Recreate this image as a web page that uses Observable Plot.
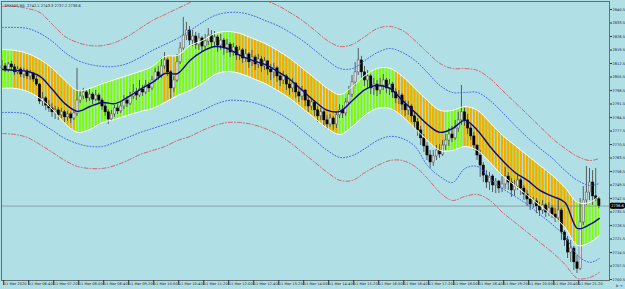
<!DOCTYPE html>
<html><head><meta charset="utf-8">
<script src="https://cdn.jsdelivr.net/npm/d3@7"></script>
<script src="https://cdn.jsdelivr.net/npm/@observablehq/plot@0.6"></script>
<style>html,body{margin:0;padding:0;background:#B0E0E6;overflow:hidden}</style>
</head><body><div id="chart"></div>
<script>
const headerText = "SPX500,M5  2742.1 2743.3 2737.2 2738.6";
const lastPrice = 2738.6;
const firstOpen = 2810.0;

const closes = [2811.0,2808.9,2812.0,2810.5,2807.9,2809.4,2806.8,2808.4,2805.8,2807.3,2804.2,2801.6,2792.8,2794.4,2790.7,2789.2,2787.2,2788.2,2785.6,2787.2,
2784.6,2786.1,2784.0,2786.6,2793.3,2795.4,2797.5,2794.4,2796.4,2793.8,2795.9,2793.3,2790.2,2787.2,2783.5,2786.1,2789.2,2787.7,2790.2,2793.3,
2791.7,2795.4,2797.5,2795.9,2799.0,2797.5,2801.1,2799.6,2803.7,2807.9,2805.8,2811.0,2814.1,2807.9,2799.6,2803.7,2813.1,2820.3,2827.0,2829.6,
2824.4,2826.5,2822.3,2825.5,2821.3,2823.9,2827.0,2823.4,2826.0,2821.8,2824.4,2820.3,2822.3,2818.2,2820.8,2816.7,2819.3,2815.1,2817.2,2813.1,
2815.6,2812.0,2814.6,2811.0,2813.6,2809.4,2807.9,2810.0,2805.8,2803.7,2805.8,2801.6,2799.6,2802.1,2797.5,2795.4,2798.5,2793.3,2790.2,2792.3,
2788.2,2785.1,2787.2,2783.0,2780.9,2784.0,2780.9,2785.6,2788.2,2786.6,2792.3,2796.4,2802.7,2807.9,2814.1,2807.9,2803.7,2805.8,2799.6,2801.6,
2798.5,2801.1,2803.7,2799.6,2801.6,2797.5,2794.4,2795.9,2791.2,2788.2,2790.2,2785.1,2782.0,2777.8,2773.7,2769.5,2764.8,2761.2,2764.3,2767.4,
2765.3,2770.0,2772.6,2775.7,2773.7,2778.8,2783.0,2787.2,2783.0,2778.8,2774.7,2770.0,2764.8,2759.6,2754.4,2750.8,2753.9,2749.3,2751.3,2747.7,
2749.8,2753.9,2750.8,2746.7,2748.7,2751.9,2747.7,2744.6,2742.0,2739.4,2741.0,2738.4,2736.3,2738.9,2735.3,2737.4,2734.2,2732.2,2736.3,2724.9,
2720.8,2714.5,2716.6,2709.4,2706.1,2730.1,2741.5,2745.6,2750.8,2743.6,2742.1,2738.6];

const highs = [2814.1,2812.5,2813.1,2813.6,2812.0,2811.0,2810.5,2810.0,2809.4,2808.9,2807.9,2805.8,2802.1,2797.5,2795.4,2793.3,2791.7,2790.2,2789.7,2789.2,
2788.2,2787.7,2787.2,2788.2,2810.0,2798.5,2799.6,2798.5,2799.0,2797.5,2798.5,2796.9,2794.4,2791.7,2788.6,2788.2,2790.7,2791.2,2792.3,2795.9,
2795.4,2797.5,2801.6,2799.6,2803.7,2801.1,2803.7,2802.7,2805.8,2810.0,2811.0,2815.1,2818.2,2815.1,2808.9,2805.8,2817.2,2823.4,2836.4,2833.8,
2831.7,2829.6,2828.6,2828.0,2826.5,2827.5,2830.6,2829.6,2829.1,2827.0,2827.5,2825.5,2824.9,2823.4,2822.9,2821.8,2821.3,2820.3,2819.8,2818.2,
2819.3,2816.7,2817.2,2816.2,2815.6,2814.1,2812.0,2812.5,2811.0,2807.9,2808.4,2806.8,2803.7,2804.8,2802.7,2799.6,2800.6,2799.0,2795.4,2794.4,
2793.3,2790.2,2789.2,2788.2,2785.6,2786.1,2785.1,2787.2,2791.2,2790.7,2794.4,2800.6,2806.3,2813.1,2820.3,2816.2,2811.0,2808.9,2806.8,2804.8,
2803.7,2804.8,2806.8,2804.8,2804.2,2802.7,2799.6,2798.5,2796.9,2793.3,2792.8,2791.2,2787.2,2784.0,2779.9,2775.7,2771.5,2767.4,2767.4,2770.0,
2770.5,2772.6,2775.7,2778.8,2779.9,2783.0,2787.2,2801.1,2789.2,2786.1,2780.9,2776.8,2770.0,2767.4,2761.2,2757.0,2756.0,2754.9,2752.9,2751.9,
2753.9,2758.6,2756.0,2752.9,2751.9,2754.9,2752.9,2749.3,2746.7,2743.6,2743.1,2742.5,2740.5,2741.5,2739.9,2740.4,2738.9,2737.4,2741.5,2737.4,
2725.9,2722.8,2720.8,2717.7,2713.0,2742.5,2748.7,2759.1,2758.1,2757.0,2758.1,2743.3];

const lows = [2808.9,2807.9,2807.9,2808.9,2806.3,2806.8,2805.3,2804.8,2804.2,2803.7,2802.7,2800.6,2791.2,2790.2,2788.2,2787.2,2784.6,2783.5,2783.0,2784.0,
2782.0,2782.5,2781.4,2783.0,2785.1,2791.7,2793.8,2792.3,2792.8,2791.2,2792.8,2791.2,2788.2,2785.1,2780.9,2782.5,2784.6,2786.1,2786.6,2788.6,
2789.7,2790.7,2793.8,2793.3,2794.9,2795.4,2796.4,2797.5,2798.5,2802.7,2803.7,2804.8,2809.4,2805.8,2793.8,2797.5,2802.7,2812.0,2819.3,2824.4,
2821.8,2821.3,2819.8,2819.3,2818.3,2819.3,2821.8,2820.3,2820.8,2818.3,2819.3,2816.7,2817.7,2815.6,2816.2,2814.1,2814.1,2812.5,2813.1,2810.0,
2811.0,2808.9,2810.0,2807.9,2808.9,2806.3,2803.7,2804.8,2802.7,2800.6,2801.6,2798.5,2795.9,2797.5,2794.4,2792.3,2793.3,2790.2,2787.2,2788.2,
2785.1,2782.0,2783.0,2779.9,2778.3,2779.4,2777.8,2778.8,2784.0,2784.0,2785.1,2791.2,2794.9,2800.6,2806.3,2804.8,2800.6,2799.6,2796.4,2795.9,
2795.4,2796.4,2798.5,2796.9,2795.9,2794.4,2791.7,2791.2,2788.2,2785.1,2785.6,2782.0,2778.8,2774.7,2770.0,2766.4,2762.2,2758.1,2759.1,2762.2,
2763.3,2764.3,2767.4,2769.5,2771.6,2772.6,2776.8,2780.4,2779.9,2775.7,2772.6,2767.4,2762.2,2753.4,2750.8,2747.7,2746.7,2745.6,2745.1,2745.1,
2745.6,2747.2,2746.7,2743.1,2743.6,2746.7,2744.1,2741.5,2738.4,2736.3,2737.3,2734.7,2733.2,2734.2,2732.7,2733.2,2732.2,2730.1,2730.1,2720.8,
2717.7,2711.4,2709.4,2705.2,2703.6,2705.2,2728.5,2739.0,2741.5,2739.0,2741.0,2737.2];

// indicator lines, read every 4 bars
const sampleBars = [0,4,8,12,16,20,24,28,32,36,40,44,48,52,56,60,64,68,72,76,80,84,88,92,96,100,104,108,112,116,120,124,128,132,136,140,144,148,152,156,160,164,168,172,176,180,184,188,191];
const midLine = [2809.4,2808.9,2808.4,2805.8,2799.0,2791.7,2787.7,2790.2,2792.3,2791.7,2794.9,2799.0,2802.7,2807.3,2807.3,2814.1,2818.8,2821.3,2820.3,2816.7,2814.1,2812.0,2808.4,2804.2,2798.5,2792.8,2788.2,2787.7,2793.3,2799.0,2801.1,2799.6,2793.3,2787.2,2780.9,2776.8,2778.8,2783.0,2777.8,2769.5,2762.2,2756.0,2751.9,2746.7,2743.6,2740.5,2727.0,2729.1,2732.2];
const bandHi = [2819.8,2819.3,2817.7,2814.6,2810.0,2803.7,2798.5,2799.6,2802.1,2804.2,2806.3,2808.4,2811.0,2816.2,2816.7,2821.8,2824.4,2828.1,2829.1,2828.1,2825.5,2822.9,2819.3,2815.1,2810.0,2804.8,2799.6,2796.4,2800.6,2806.3,2810.0,2810.0,2805.8,2799.6,2793.3,2788.2,2788.2,2790.2,2788.2,2781.9,2775.2,2770.0,2764.8,2759.6,2754.4,2748.2,2740.5,2740.5,2744.1];
const bandLo = [2799.6,2799.6,2798.0,2794.4,2788.7,2781.4,2776.8,2778.3,2781.9,2783.5,2785.6,2787.6,2789.2,2792.3,2795.9,2798.5,2802.1,2806.8,2808.4,2807.3,2804.8,2802.1,2798.5,2794.4,2789.2,2784.0,2778.8,2775.7,2779.8,2785.6,2789.2,2789.2,2785.0,2778.8,2772.6,2767.4,2767.4,2769.5,2767.4,2761.2,2754.4,2749.3,2744.1,2738.9,2733.7,2727.5,2718.2,2719.7,2723.3];
const dotHi = [2831.2,2831.2,2830.7,2828.1,2823.9,2818.2,2814.1,2812.0,2811.0,2811.0,2812.5,2815.6,2819.3,2822.4,2825.5,2829.6,2833.8,2837.4,2838.9,2838.9,2837.4,2834.8,2832.2,2828.6,2824.4,2819.3,2814.1,2809.9,2809.9,2814.1,2818.2,2820.3,2818.2,2814.1,2807.8,2801.1,2797.5,2797.5,2797.5,2793.3,2787.1,2780.4,2774.1,2768.5,2763.3,2757.0,2751.9,2749.3,2750.3];
const dotLo = [2787.1,2787.1,2786.1,2781.9,2777.8,2773.6,2771.0,2769.5,2769.5,2771.6,2774.1,2776.7,2778.8,2780.9,2783.0,2785.5,2788.2,2791.3,2793.3,2793.3,2792.3,2790.2,2787.1,2783.0,2777.8,2772.6,2767.4,2763.8,2764.8,2768.4,2772.6,2774.7,2773.6,2769.5,2759.6,2753.9,2750.8,2758.1,2759.1,2752.9,2747.7,2743.6,2739.4,2734.2,2729.0,2722.8,2713.0,2709.4,2711.4];
const redHi = [2842.1,2842.1,2841.0,2838.9,2832.7,2826.5,2823.4,2821.8,2821.8,2823.4,2826.5,2830.7,2834.8,2837.9,2841.0,2844.1,2847.2,2849.3,2850.4,2849.3,2847.2,2845.2,2842.6,2838.9,2834.8,2829.6,2824.4,2821.3,2822.4,2826.5,2830.7,2831.7,2829.6,2824.4,2818.2,2812.5,2809.9,2809.9,2808.9,2804.7,2798.5,2792.3,2786.1,2779.8,2773.6,2768.5,2764.3,2762.2,2763.3];
const redLo = [2776.2,2775.7,2774.1,2770.5,2766.4,2762.2,2759.1,2758.1,2758.1,2759.6,2762.2,2765.3,2767.4,2769.5,2772.6,2774.7,2777.8,2780.4,2781.9,2781.9,2780.9,2778.8,2775.7,2771.6,2766.4,2761.2,2756.0,2751.9,2751.9,2756.0,2759.6,2762.2,2762.2,2759.1,2752.9,2745.6,2741.5,2743.6,2744.6,2741.5,2735.3,2730.1,2724.9,2719.7,2714.5,2708.3,2701.1,2701.6,2704.2];

// bars (inclusive) where the band is drawn orange (down); elsewhere green
const downRanges = [[4,23],[52,55],[75,107],[126,141],[148,183]];

const xTickBars = [0,8,16,24,32,40,48,56,64,72,80,88,96,104,112,120,128,136,144,152,160,168,176,184];
const xTickLabels = ["11 Mar 2020","11 Mar 06:40","11 Mar 07:20","11 Mar 08:00","11 Mar 08:40","11 Mar 09:20","11 Mar 10:00","11 Mar 10:40","11 Mar 11:20","11 Mar 12:00","11 Mar 12:40","11 Mar 13:20","11 Mar 14:00","11 Mar 14:40","11 Mar 15:20","11 Mar 16:00","11 Mar 16:40","11 Mar 17:20","11 Mar 18:00","11 Mar 18:40","11 Mar 19:20","11 Mar 20:00","11 Mar 20:40","11 Mar 21:20"];
const yTicks = [2700.5,2707.5,2714.5,2721.5,2728.5,2735.5,2742.5,2749.5,2756.5,2763.5,2770.5,2777.5,2784.5,2791.5,2798.5,2805.5,2812.5,2819.5,2826.5,2833.5,2840.5];

const bars = closes.map((c, i) => {
  const o = i === 0 ? firstOpen : closes[i - 1];
  return {i, o, c, h: Math.max(highs[i], o, c), l: Math.min(lows[i], o, c)};
});
const lines = sampleBars.map((b, k) => ({b, mid: midLine[k], bandHi: bandHi[k], bandLo: bandLo[k],
  dotHi: dotHi[k], dotLo: dotLo[k], redHi: redHi[k], redLo: redLo[k]}));

const curve = "catmull-rom";
const chart = Plot.plot({
  width: 625, height: 289,
  marginLeft: 1, marginRight: 16, marginTop: 1, marginBottom: 9,
  x: {domain: [-0.32, 194.24]},
  y: {domain: [2700.0, 2844.65]},
  style: {background: "#B0E0E6", fontFamily: "DejaVu Sans, sans-serif", fontSize: "3.6px", color: "#1a1a1a"},
  marks: [
    Plot.areaY(lines, {x: "b", y1: "bandLo", y2: "bandHi", fill: "url(#stripeGreen)", curve}),
    Plot.areaY(lines, {x: "b", y1: "bandLo", y2: "bandHi", fill: "url(#stripeOrange)", curve}),
    Plot.ruleY([lastPrice], {stroke: "#7f9298", strokeWidth: 0.8}),
    Plot.rect(bars, {x1: d => d.i - 0.14, x2: d => d.i + 0.14, y1: "l", y2: "h", fill: "#4a4a4a"}),
    Plot.rect(bars, {x1: d => d.i - 0.36, x2: d => d.i + 0.36, y1: "o", y2: "c",
      fill: d => d.c >= d.o ? "#dcdcdc" : "#000000", stroke: d => d.c >= d.o ? "#555555" : "#000000", strokeWidth: 0.5}),
    Plot.line(lines, {x: "b", y: "bandHi", stroke: "white", strokeWidth: 1, curve}),
    Plot.line(lines, {x: "b", y: "bandLo", stroke: "white", strokeWidth: 1, curve}),
    Plot.line(lines, {x: "b", y: "redHi", stroke: "#d9606e", strokeWidth: 1, strokeDasharray: "4,2,1,2", curve, clip: true}),
    Plot.line(lines, {x: "b", y: "redLo", stroke: "#d9606e", strokeWidth: 1, strokeDasharray: "4,2,1,2", curve, clip: true}),
    Plot.line(lines, {x: "b", y: "dotHi", stroke: "#3d62e0", strokeWidth: 1, strokeDasharray: "1,2", curve, clip: true}),
    Plot.line(lines, {x: "b", y: "dotLo", stroke: "#3d62e0", strokeWidth: 1, strokeDasharray: "1,2", curve, clip: true}),
    Plot.line(lines, {x: "b", y: "mid", stroke: "#0b0b86", strokeWidth: 1.4, curve}),
    Plot.frame({stroke: "#5f6f74", strokeWidth: 1}),
    Plot.axisY(yTicks, {anchor: "right", tickSize: 2, tickPadding: 1, tickFormat: d => d.toFixed(1), stroke: "#333", fill: "#1a1a1a"}),
    Plot.axisX(xTickBars, {anchor: "bottom", tickSize: 5, tickPadding: -3, textAnchor: "start", dx: 1.2,
      tickFormat: d => xTickLabels[xTickBars.indexOf(d)], stroke: "#333", fill: "#1a1a1a"}),
    Plot.text([headerText], {frameAnchor: "top-left", dx: 3, dy: 3, textAnchor: "start", fill: "#1a1a1a"}),
    Plot.text([lastPrice], {y: d => d, text: d => d.toFixed(1), frameAnchor: "right", dx: 8, textAnchor: "middle",
      fill: "white", stroke: "black", strokeWidth: 3.5, paintOrder: "stroke"})
  ]
});

const svg = chart.tagName.toLowerCase() === "svg" ? chart : chart.querySelector("svg");
const ns = "http://www.w3.org/2000/svg";
const defs = document.createElementNS(ns, "defs");
defs.innerHTML =
  '<pattern id="stripeOrange" patternUnits="userSpaceOnUse" x="1" y="0" width="3.125" height="20"><rect x="0" y="0" width="2" height="20" fill="#FFA500"/></pattern>' +
  '<pattern id="stripeGreen" patternUnits="userSpaceOnUse" x="1" y="0" width="3.125" height="20"><rect x="0" y="0" width="2" height="20" fill="#7CFC00"/></pattern>';
const xs = chart.scale("x");
const clip = document.createElementNS(ns, "clipPath");
clip.setAttribute("id", "orangeClip");
for (const [a, b] of downRanges) {
  const r = document.createElementNS(ns, "rect");
  const x0 = xs.apply(a - 0.5), x1 = xs.apply(b + 0.5);
  r.setAttribute("x", x0); r.setAttribute("width", x1 - x0);
  r.setAttribute("y", 0); r.setAttribute("height", 289);
  clip.appendChild(r);
}
defs.appendChild(clip);
svg.insertBefore(defs, svg.firstChild);
const areas = svg.querySelectorAll('g[aria-label="area"]');
if (areas[1]) areas[1].setAttribute("clip-path", "url(#orangeClip)");
document.getElementById("chart").appendChild(chart);
</script>
</body></html>
